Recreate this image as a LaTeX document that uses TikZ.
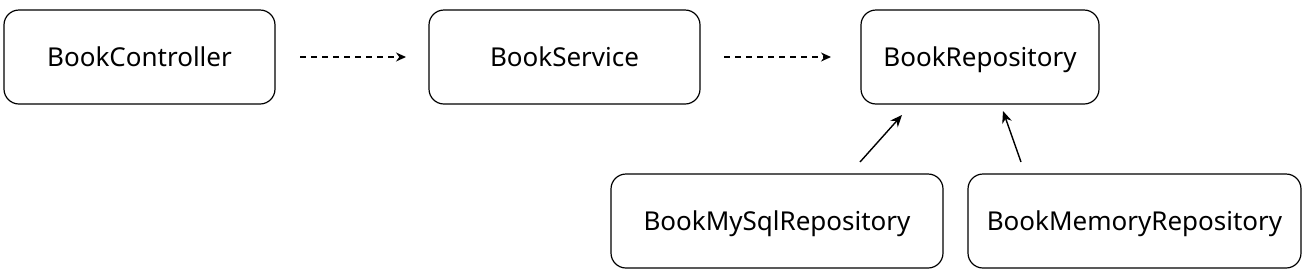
\documentclass[tikz,border=0pt]{standalone}
\usepackage{fontspec}
\setmainfont{Noto Sans}
\usetikzlibrary{arrows.meta}
\begin{document}
\begin{tikzpicture}[x=1pt,y=-1pt,
  box/.style={draw,line width=1.2pt,rounded corners=15pt,inner sep=0pt,text height=18pt,text depth=0pt,font=\fontsize{26}{30}\selectfont},
  dep/.style={dashed,dash pattern=on 6pt off 5pt,line width=1.4pt,-{Stealth[length=10pt,width=9pt]}},
  inh/.style={line width=1.4pt,-{Stealth[length=12pt,width=10pt]}}]
\useasboundingbox (0,0) rectangle (1306,274);
\node[box,minimum width=271pt,minimum height=94pt] (ctl) at (139.5,57) {BookController};
\node[box,minimum width=271pt,minimum height=94pt] (svc) at (564.5,57) {BookService};
\node[box,minimum width=238pt,minimum height=94pt] (repo) at (980,57) {BookRepository};
\node[box,minimum width=332pt,minimum height=94pt] (mysql) at (777,221) {BookMySqlRepository};
\node[box,minimum width=333pt,minimum height=94pt] (mem) at (1134.5,221) {BookMemoryRepository};
\coordinate (a1s) at (300,57); \coordinate (a1e) at (406,57);
\coordinate (a2s) at (724,57); \coordinate (a2e) at (831,57);
\coordinate (b1s) at (860,162); \coordinate (b1e) at (902,115);
\coordinate (b2s) at (1021,162); \coordinate (b2e) at (1003,111);
\draw[dep] (a1s) -- (a1e);
\draw[dep] (a2s) -- (a2e);
\draw[inh] (b1s) -- (b1e);
\draw[inh] (b2s) -- (b2e);
\end{tikzpicture}
\end{document}
